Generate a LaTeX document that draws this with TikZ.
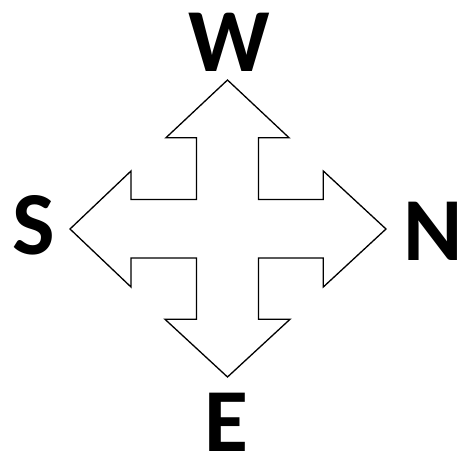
\documentclass[tikz,border=0pt]{standalone}
\usepackage{fontspec}
\setmainfont{Carlito}
\begin{document}
\begin{tikzpicture}[x=1pt,y=-1pt,
  lbl/.style={anchor=base,inner sep=0pt,font=\fontsize{90}{90}\selectfont\bfseries},
  arrowshape/.style={draw=black,fill=white,line width=1.3pt,line join=miter}]
\useasboundingbox (0,0) rectangle (459,455);
\draw[arrowshape] (227.5,80) -- (289,137.7) -- (258.5,137.7) -- (258.5,199.5)
  -- (323.3,199.5) -- (323.3,171) -- (386,229) -- (323.3,287) -- (323.3,258)
  -- (258.5,258) -- (258.5,319.3) -- (290,319.3) -- (227.5,377) -- (165,319.3)
  -- (196.5,319.3) -- (196.5,258) -- (131,258) -- (131,287) -- (70,229)
  -- (131,171) -- (131,199.5) -- (196.5,199.5) -- (196.5,137.7) -- (166,137.7) -- cycle;
\node[lbl] (w) at (229.3,71) {W};
\node[lbl] (s) at (34.2,254) {S};
\node[lbl] (n) at (433.3,260) {N};
\node[lbl] (e) at (226.3,451) {E};
\end{tikzpicture}
\end{document}
